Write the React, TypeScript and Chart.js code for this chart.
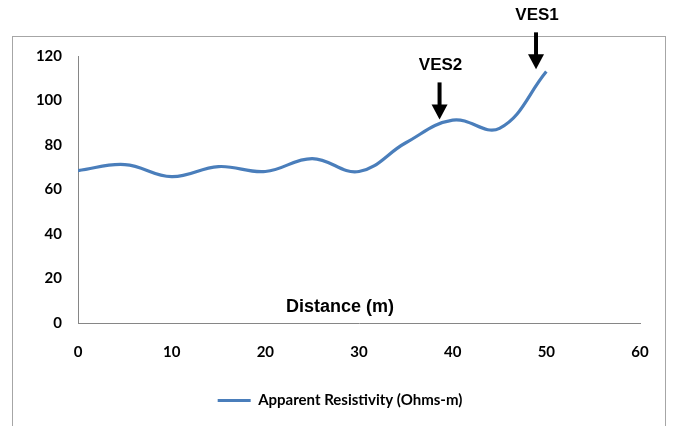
import React, { useEffect, useRef } from "react";
import { Chart, registerables } from "chart.js";

Chart.register(...registerables);

const distances = [0, 5, 10, 15, 20, 25, 30, 35, 40, 45, 50];
const resistivity = [68.5, 71.2, 65.8, 70.3, 68.1, 73.9, 68.1, 81, 91.2, 87.5, 113];
const seriesLabel = "Apparent Resistivity (Ohms-m)";
const axisTitle = "Distance (m)";
const vesLabels = ["VES2", "VES1"];
const vesX = [38.6, 48.9];
const vesTipY = [91.5, 114];

const annotPlugin = {
  id: "annot",
  beforeDraw(chart: any) {
    const ctx = chart.ctx;
    ctx.save();
    ctx.fillStyle = "#ffffff";
    ctx.fillRect(0, 0, chart.width, chart.height);
    ctx.strokeStyle = "#a6a6a6";
    ctx.lineWidth = 1;
    ctx.strokeRect(12.5, 36.5, 653, 420);
    ctx.restore();
  },
  afterDatasetsDraw(chart: any) {
    const ctx = chart.ctx;
    const xs = chart.scales.x;
    const ys = chart.scales.y;
    const area = chart.chartArea;
    ctx.save();
    ctx.fillStyle = "#000";
    ctx.font = "bold 18px 'Liberation Sans', Arial, sans-serif";
    ctx.textAlign = "center";
    ctx.textBaseline = "middle";
    ctx.fillText(axisTitle, area.left + 262, area.bottom - 16);
    for (let i = 0; i < vesLabels.length; i++) {
      const px = xs.getPixelForValue(vesX[i]);
      const tip = ys.getPixelForValue(vesTipY[i]);
      const top = tip - 37;
      ctx.strokeStyle = "#000";
      ctx.lineWidth = 4;
      ctx.beginPath();
      ctx.moveTo(px, top);
      ctx.lineTo(px, tip - 12);
      ctx.stroke();
      ctx.fillStyle = "#000";
      ctx.beginPath();
      ctx.moveTo(px - 8, tip - 15);
      ctx.lineTo(px + 8, tip - 15);
      ctx.lineTo(px, tip);
      ctx.closePath();
      ctx.fill();
      ctx.font = "bold 17px 'Liberation Sans', Arial, sans-serif";
      ctx.textAlign = "center";
      ctx.textBaseline = "middle";
      ctx.fillText(vesLabels[i], px + 1, top - 17);
    }
    ctx.restore();
  },
};

export default function App() {
  const ref = useRef<HTMLCanvasElement | null>(null);
  useEffect(() => {
    if (!ref.current) return;
    const tickFont = { family: "Lato, 'Open Sans', sans-serif", size: 15, weight: "bold" as const };
    const chart = new Chart(ref.current, {
      type: "line",
      data: {
        datasets: [
          {
            label: seriesLabel,
            data: distances.map((d, i) => ({ x: d, y: resistivity[i] })),
            borderColor: "#4a7ebb",
            backgroundColor: "#4a7ebb",
            borderWidth: 3.2,
            pointRadius: 0,
            tension: 0.4,
            fill: false,
          },
        ],
      },
      options: {
        animation: false,
        responsive: false,
        devicePixelRatio: 1,
        layout: { padding: { left: 7, right: 0, top: 56, bottom: 8 } },
        plugins: {
          legend: {
            display: true,
            position: "bottom",
            labels: {
              usePointStyle: true,
              pointStyle: "line",
              pointStyleWidth: 33,
              padding: 10,
              color: "#000",
              font: { family: "Lato, 'Open Sans', sans-serif", size: 15, weight: "bold" },
            },
          },
          tooltip: { enabled: false },
        },
        scales: {
          x: {
            type: "linear",
            min: 0,
            max: 60,
            grid: { display: false, drawTicks: false },
            border: { display: true, color: "#868686", width: 1 },
            ticks: { stepSize: 10, padding: 20, color: "#000", font: tickFont, maxRotation: 0 },
            afterFit(scale: any) {
              scale.height = 60;
              scale.paddingRight = 33;
              scale.paddingLeft = 0;
            },
          },
          y: {
            min: 0,
            max: 120,
            grid: { display: false, drawTicks: false },
            border: { display: true, color: "#868686", width: 1 },
            ticks: { stepSize: 20, padding: 16, color: "#000", font: tickFont },
            afterFit(scale: any) {
              scale.width = 71;
              scale.paddingTop = 0;
              scale.paddingBottom = 0;
            },
          },
        },
      },
      plugins: [annotPlugin],
    });
    return () => chart.destroy();
  }, []);
  return (
    <div style={{ position: "absolute", left: 0, top: 0, width: 673, height: 426 }}>
      <canvas ref={ref} width={673} height={426} style={{ width: 673, height: 426, display: "block" }} />
    </div>
  );
}
